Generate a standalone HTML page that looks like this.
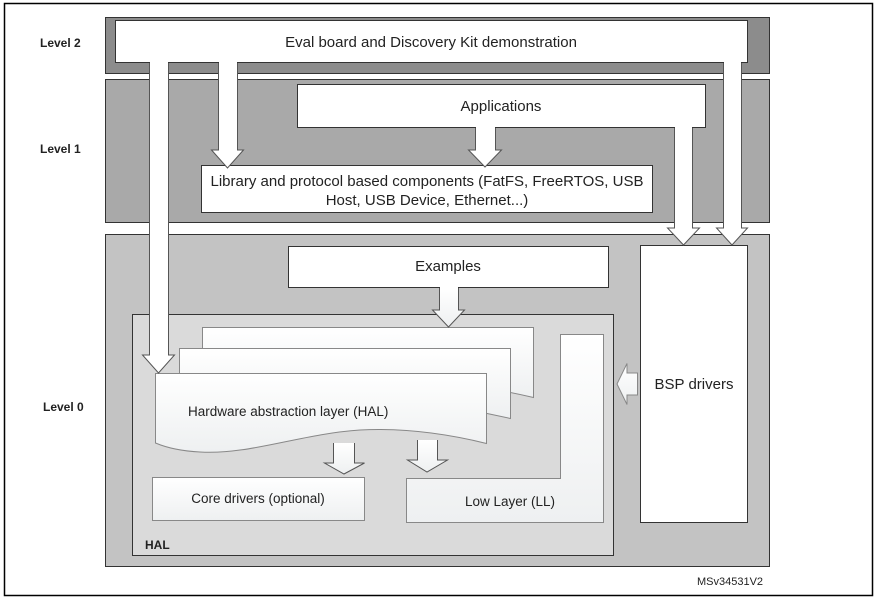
<!DOCTYPE html>
<html><head><meta charset="utf-8"><style>
html,body{margin:0;padding:0;background:#fff}
svg{display:block}
text{font-family:"Liberation Sans",sans-serif}
</style></head><body>
<svg width="880" height="600" viewBox="0 0 880 600" xmlns="http://www.w3.org/2000/svg">
<defs>
<linearGradient id="g" x1="0" y1="0" x2="0" y2="1"><stop offset="0" stop-color="#fff"/><stop offset="1" stop-color="#eef0f1"/></linearGradient>
</defs>
<rect x="4.5" y="3.5" width="868" height="592" fill="#fff" stroke="#000" stroke-width="1.5"/>
<rect x="105.5" y="17.5" width="664" height="56" fill="#8c8c8c" stroke="#333"/>
<rect x="105.5" y="79.5" width="664" height="143" fill="#a9a9a9" stroke="#333"/>
<rect x="105.5" y="234.5" width="664" height="332" fill="#c3c3c3" stroke="#333"/>
<rect x="115.5" y="20.5" width="632" height="42" fill="#fff" stroke="#333"/>
<text x="431" y="47" font-size="15" text-anchor="middle" fill="#222">Eval board and Discovery Kit demonstration</text>
<rect x="297.5" y="84.5" width="408" height="43" fill="#fff" stroke="#333"/>
<text x="501" y="111" font-size="15" text-anchor="middle" fill="#222">Applications</text>
<rect x="201.5" y="165.5" width="451" height="47" fill="#fff" stroke="#333"/>
<text x="427" y="186" font-size="15" text-anchor="middle" fill="#222">Library and protocol based components (FatFS, FreeRTOS, USB</text>
<text x="427" y="205" font-size="15" text-anchor="middle" fill="#222">Host, USB Device, Ethernet...)</text>
<rect x="288.5" y="246.5" width="320" height="41" fill="#fff" stroke="#333"/>
<text x="448" y="271" font-size="15" text-anchor="middle" fill="#222">Examples</text>
<rect x="640.5" y="245.5" width="107" height="277" fill="#fff" stroke="#333"/>
<text x="694" y="389" font-size="15" text-anchor="middle" fill="#222">BSP drivers</text>
<rect x="132.5" y="314.5" width="481" height="241" fill="#dadada" stroke="#333"/>
<text x="145" y="549" font-size="12" font-weight="bold" fill="#222">HAL</text>
<path d="M560.5 334.5 H603.5 V522.5 H406.5 V478.5 H560.5 Z" fill="url(#g)" stroke="#888"/>
<text x="510" y="506" font-size="13.5" text-anchor="middle" fill="#222">Low Layer (LL)</text>
<rect x="152.5" y="477.5" width="212" height="43" fill="url(#g)" stroke="#888"/>
<text x="258" y="503" font-size="13.5" text-anchor="middle" fill="#222">Core drivers (optional)</text>
<path d="M202.5 327.5 H533.5 V397.5 Q510 392 486 388 L202.5 388 Z" fill="url(#g)" stroke="#888"/>
<path d="M179.5 348.5 H510.5 V418.5 Q490 414 470 410 L179.5 410 Z" fill="url(#g)" stroke="#888"/>
<path d="M155.5 373.5 H486.5 V443.5 C440 432 400 428 360 430 C300 434 250 455 200 452 C180 451 165 447 155.5 443 Z" fill="url(#g)" stroke="#888"/>
<text x="188" y="416" font-size="13.5" fill="#222">Hardware abstraction layer (HAL)</text>
<g fill="#fff" stroke="#555" stroke-width="1">
<path d="M149.5 63 V355 H142.5 L158.5 373 L174.5 355 H168.5 V63"/>
<path d="M218.5 63 V150 H211.5 L227.5 168 L243.5 150 H237.5 V63"/>
<path d="M723.5 63 V228 H716.5 L732 245 L747.5 228 H741.5 V63"/>
<path d="M475.5 128 V150 H468.5 L485 167 L501.5 150 H495.5 V128"/>
<path d="M674.5 128 V228 H667.5 L683.5 245 L699.5 228 H692.5 V128"/>
<path d="M439.5 288 V310 H432.5 L448.5 327 L464.5 310 H458.5 V288" fill="url(#g)"/>
<path d="M333.5 443 V463 H324.5 L344 474 L364.5 463 H354.5 V443" fill="url(#g)"/>
<path d="M417.5 440 V460 H407.5 L427 472 L447.5 460 H437.5 V440" fill="url(#g)"/>
<path d="M637.5 373 H627 V363.5 L617 384 L627 404.5 V395 H637.5 Z" fill="url(#g)" stroke="#888"/>
</g>
<g fill="#fff"><rect x="150" y="60" width="18" height="5"/><rect x="219" y="60" width="18" height="5"/><rect x="724" y="60" width="17" height="5"/><rect x="476" y="125" width="19" height="5"/><rect x="675" y="125" width="17" height="5"/><rect x="440" y="285" width="18" height="5"/></g>
<text x="40" y="47" font-size="12" font-weight="bold" fill="#222">Level 2</text>
<text x="40" y="153" font-size="12" font-weight="bold" fill="#222">Level 1</text>
<text x="43" y="411" font-size="12" font-weight="bold" fill="#222">Level 0</text>
<text x="697" y="585" font-size="11" fill="#222">MSv34531V2</text>
</svg>
</body></html>
